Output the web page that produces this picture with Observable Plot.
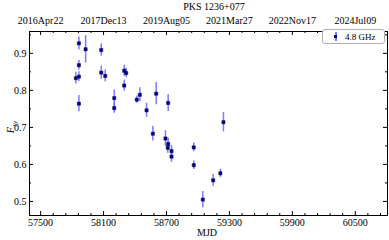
<!DOCTYPE html>
<html><head><meta charset="utf-8">
<script src="https://cdn.jsdelivr.net/npm/d3@7"></script>
<script src="https://cdn.jsdelivr.net/npm/@observablehq/plot@0.6"></script>
<style>
body{margin:0;background:#fff;}
#wrap{position:relative;width:389px;height:240px;font-family:"Liberation Serif","DejaVu Serif",serif;color:#000;}
#wrap svg{position:absolute;left:0;top:0;}
.lbl{position:absolute;font-size:10px;line-height:1;white-space:nowrap;}
#title{left:214px;top:2px;transform:translateX(-50%);}
#xlab{left:207px;top:228px;transform:translateX(-50%);}
#ylab{left:12px;top:127px;transform:translate(-50%,-50%) rotate(-90deg);}
#legend{position:absolute;left:322px;top:29px;width:61px;height:13px;border:1px solid #b0b0b0;border-radius:3px;background:#fff;font-size:9px;}
#legend .bar{position:absolute;left:12px;top:2px;width:1.5px;height:9px;background:#5a5aff;opacity:.8;}
#legend .sq{position:absolute;left:11.25px;top:5px;width:3px;height:3px;background:#00008b;}
#legend .t{position:absolute;left:22px;top:2px;}
</style></head><body><div id="wrap"></div>
<script>
const title = "PKS 1236+077";
const seriesLabel = "4.8 GHz";
const xLabel = "MJD";
const mjd = [57836,57865,57865,57865,57865,57929,58078,58078,58116,58202,58202,58297,58316,58297,58417,58446,58510,58602,58716,58570,58690,58716,58712,58748,58748,58960,58960,59046,59145,59214,59243];
const flux = [0.833,0.837,0.868,0.927,0.764,0.911,0.909,0.848,0.839,0.779,0.752,0.853,0.847,0.813,0.775,0.788,0.746,0.791,0.766,0.683,0.670,0.655,0.645,0.636,0.621,0.646,0.598,0.505,0.557,0.576,0.714];
const fluxErr = [0.016,0.013,0.013,0.017,0.022,0.037,0.017,0.018,0.016,0.022,0.014,0.015,0.013,0.015,0.010,0.019,0.019,0.030,0.023,0.020,0.021,0.016,0.015,0.015,0.015,0.012,0.012,0.022,0.016,0.011,0.026];
const xTicks = [57500,58100,58700,59300,59900,60500];
const dateLabels = ["2016Apr22","2017Dec13","2019Aug05","2021Mar27","2022Nov17","2024Jul09"];
const yTicks = [0.5,0.6,0.7,0.8,0.9];

const data = mjd.map((m,i)=>({mjd:m, f:flux[i], e:fluxErr[i]}));
const xMinor = d3.range(57500,60807,120).filter(v=>!xTicks.includes(v));
const yMinor = [0.55,0.65,0.75,0.85,0.95];

const W=389,H=240,mt=31,mb=25,ml=29,mr=2;
const fh=H-mt-mb, fw=W-ml-mr;
const font = '"Liberation Serif","DejaVu Serif",serif';

const chart = Plot.plot({
  width:W,height:H,marginTop:mt,marginBottom:mb,marginLeft:ml,marginRight:mr,
  style:{fontFamily:font,fontSize:"10px",color:"#000",background:"transparent",overflow:"visible"},
  x:{domain:[57394,60807]},
  y:{domain:[0.462,0.959]},
  marks:[
    Plot.ruleX(data,{x:"mjd",y1:d=>d.f-d.e,y2:d=>d.f+d.e,stroke:"#5a5aff",strokeOpacity:0.8,strokeWidth:1.5}),
    Plot.dot(data,{x:"mjd",y:"f",symbol:"square",r:1.8,fill:"#00008b",stroke:"#000050",strokeWidth:0.5}),
    Plot.tickX(xTicks,{x:d=>d,insetTop:fh-4,stroke:"#000"}),
    Plot.tickX(xTicks,{x:d=>d,insetBottom:fh-4,stroke:"#000"}),
    Plot.tickX(xMinor,{x:d=>d,insetTop:fh-2,stroke:"#000"}),
    Plot.tickX(xMinor,{x:d=>d,insetBottom:fh-2,stroke:"#000"}),
    Plot.tickY(yTicks,{y:d=>d,insetRight:fw-4,stroke:"#000"}),
    Plot.tickY(yTicks,{y:d=>d,insetLeft:fw-4,stroke:"#000"}),
    Plot.tickY(yMinor,{y:d=>d,insetRight:fw-2,stroke:"#000"}),
    Plot.tickY(yMinor,{y:d=>d,insetLeft:fw-2,stroke:"#000"}),
    Plot.frame({stroke:"#000"}),
    Plot.axisX({anchor:"bottom",ticks:xTicks,tickSize:0,tickPadding:3,tickFormat:d=>String(d),label:null}),
    Plot.axisX({anchor:"top",ticks:xTicks,tickSize:0,tickPadding:8,tickFormat:d=>dateLabels[xTicks.indexOf(d)],label:null}),
    Plot.axisY({anchor:"left",ticks:yTicks,tickSize:0,tickPadding:3,tickFormat:d3.format(".1f"),label:null})
  ]
});
const wrap = document.getElementById("wrap");
wrap.appendChild(chart);
wrap.insertAdjacentHTML("beforeend",
 `<div class="lbl" id="title">${title}</div>
  <div class="lbl" id="xlab">${xLabel}</div>
  <div class="lbl" id="ylab"><i>F</i><sub style="font-size:7px">Jy</sub></div>
  <div id="legend"><div class="bar"></div><div class="sq"></div><div class="t">${seriesLabel}</div></div>`);
</script></body></html>
